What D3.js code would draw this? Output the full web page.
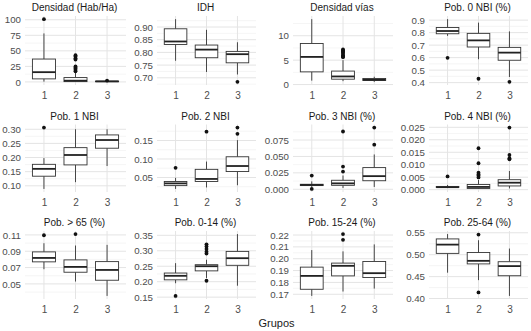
<!DOCTYPE html>
<html><head><meta charset="utf-8">
<script src="https://cdn.jsdelivr.net/npm/d3@7"></script>
<style>
body{margin:0;background:#fff}
svg{display:block;font-family:"Liberation Sans",Arial,sans-serif}
</style></head>
<body><svg id="c" width="531" height="331"></svg>
<script>
const groups = ["1","2","3"];
const titles = ["Densidad (Hab/Ha)","IDH","Densidad vías","Pob. 0 NBI (%)",
  "Pob. 1 NBI","Pob. 2 NBI","Pob. 3 NBI (%)","Pob. 4 NBI (%)",
  "Pob. > 65 (%)","Pob. 0-14 (%)","Pob. 15-24 (%)","Pob. 25-64 (%)"];
// stats per group: [low whisker, q1, median, q3, high whisker]
const densHabStats = [[0.5,4.9,15.7,36.8,78],[0.1,0.5,2,7,15],[0.2,0.6,0.9,1.2,1.8]];
const densHabOut = [[101],[43,41,38,36,25,23,21,19,17],[2.2]];
const idhStats = [[0.767,0.831,0.843,0.893,0.931],[0.723,0.779,0.811,0.829,0.889],[0.713,0.759,0.793,0.804,0.84]];
const idhOut = [[],[],[0.684]];
const densViasStats = [[0.8,2.6,5.66,8.4,13.4],[0.7,1.1,1.66,2.76,5.0],[0.55,0.83,0.97,1.24,1.6]];
const densViasOut = [[],[7.2,7.0,6.8,6.6,6.3,6.0,5.8,5.6],[]];
const nbi0Stats = [[0.774,0.791,0.813,0.841,0.908],[0.587,0.685,0.738,0.794,0.88],[0.445,0.579,0.64,0.682,0.81]];
const nbi0Out = [[0.598],[0.431],[0.406]];
const nbi1Stats = [[0.089,0.134,0.16,0.176,0.198],[0.113,0.174,0.209,0.235,0.30],[0.17,0.233,0.262,0.28,0.30]];
const nbi1Out = [[0.306],[],[]];
const nbi2Stats = [[0.019,0.028,0.034,0.039,0.049],[0.023,0.039,0.046,0.072,0.093],[0.029,0.066,0.081,0.106,0.151]];
const nbi2Out = [[0.076],[0.174],[0.185,0.168]];
const nbi3Stats = [[0.0035,0.0056,0.0066,0.0076,0.012],[0.002,0.006,0.009,0.0137,0.021],[0.0035,0.013,0.020,0.033,0.053]];
const nbi3Out = [[0.0208,0.0005],[0.088,0.0345,0.027],[0.094,0.068]];
const nbi4Stats = [[0.0007,0.0009,0.001,0.0013,0.0019],[0.0003,0.0005,0.0011,0.0021,0.0039],[0.0005,0.0015,0.0028,0.004,0.0075]];
const nbi4Out = [[0.0053],[0.0166,0.0106,0.0068,0.0061,0.0056,0.0049],[0.0249,0.0139,0.0126,0.0122]];
const p65Stats = [[0.068,0.077,0.0818,0.0892,0.0998],[0.0529,0.0643,0.0708,0.0794,0.097],[0.0353,0.0545,0.0671,0.0773,0.0978]];
const p65Out = [[0.1096],[0.111],[]];
const p014Stats = [[0.195,0.206,0.219,0.228,0.26],[0.212,0.235,0.25,0.255,0.271],[0.187,0.253,0.276,0.298,0.354]];
const p014Out = [[0.154],[0.321,0.314,0.306,0.297,0.291,0.203],[]];
const p1524Stats = [[0.1686,0.1742,0.1855,0.1929,0.2073],[0.1723,0.1855,0.194,0.1963,0.2062],[0.1748,0.1841,0.1878,0.1977,0.2121]];
const p1524Out = [[],[0.2208,0.216],[]];
const p2564Stats = [[0.459,0.503,0.523,0.536,0.547],[0.442,0.479,0.486,0.505,0.533],[0.406,0.452,0.474,0.484,0.514]];
const p2564Out = [[],[0.546,0.414],[]];
// tick labels per panel
const ticks1 = [0,25,50,75,100];
const ticks2 = [0.70,0.75,0.80,0.85,0.90];
const ticks3 = [0,5,10];
const ticks4 = [0.4,0.5,0.6,0.7,0.8,0.9];
const ticks5 = [0.10,0.15,0.20,0.25,0.30];
const ticks6 = [0.05,0.10,0.15];
const ticks7 = [0,0.025,0.05,0.075];
const ticks8 = [0,0.005,0.01,0.015,0.02,0.025];
const ticks9 = [0.05,0.07,0.09,0.11];
const ticks10 = [0.15,0.20,0.25,0.30,0.35];
const ticks11 = [0.17,0.18,0.19,0.20,0.21,0.22];
const ticks12 = [0.40,0.45,0.50,0.55];
const formats = ["d",".2f","d",".1f",".2f",".2f",".3f",".3f",".2f",".2f",".2f",".2f"];

const panels = [
  [densHabStats,densHabOut,ticks1],[idhStats,idhOut,ticks2],[densViasStats,densViasOut,ticks3],[nbi0Stats,nbi0Out,ticks4],
  [nbi1Stats,nbi1Out,ticks5],[nbi2Stats,nbi2Out,ticks6],[nbi3Stats,nbi3Out,ticks7],[nbi4Stats,nbi4Out,ticks8],
  [p65Stats,p65Out,ticks9],[p014Stats,p014Out,ticks10],[p1524Stats,p1524Out,ticks11],[p2564Stats,p2564Out,ticks12]
];

const cols = [[25,126],[157,256],[293,393],[429,528]];
const rows = [[16,85],[124.5,192],[231,299]];
const svg = d3.select("#c");

panels.forEach((p,i)=>{
  const [stats,outs,ticks] = p;
  const c = cols[i%4], r = rows[Math.floor(i/4)];
  const all = stats.flat().concat(outs.flat());
  const mn = d3.min(all), mx = d3.max(all), sp = mx-mn;
  const y = d3.scaleLinear().domain([mn-0.05*sp, mx+0.05*sp]).range([r[1],r[0]]);
  const x = d3.scalePoint().domain(groups).range(c).padding(0.6);
  const g = svg.append("g");
  // minor grid
  const step = ticks[1]-ticks[0];
  const minors = [];
  for(let v=ticks[0]-step/2; v<=y.domain()[1]; v+=step){ if(v>=y.domain()[0]) minors.push(v); }
  g.selectAll(".mn").data(minors).join("line")
    .attr("x1",c[0]).attr("x2",c[1]).attr("y1",d=>y(d)).attr("y2",d=>y(d))
    .attr("stroke","#efefef").attr("stroke-width",0.6);
  g.selectAll(".mj").data(ticks).join("line")
    .attr("x1",c[0]).attr("x2",c[1]).attr("y1",d=>y(d)).attr("y2",d=>y(d))
    .attr("stroke","#e4e4e4").attr("stroke-width",1);
  g.selectAll(".vg").data(groups).join("line")
    .attr("x1",d=>x(d)).attr("x2",d=>x(d)).attr("y1",r[0]).attr("y2",r[1])
    .attr("stroke","#e4e4e4").attr("stroke-width",1);
  // axes
  const ay = g.append("g").attr("transform",`translate(${c[0]},0)`)
    .call(d3.axisLeft(y).tickValues(ticks).tickFormat(d3.format(formats[i])).tickSize(0).tickPadding(4));
  ay.select(".domain").remove();
  ay.selectAll("text").attr("fill","#4d4d4d").style("font-size","9.7px");
  const ax = g.append("g").attr("transform",`translate(0,${r[1]})`)
    .call(d3.axisBottom(x).tickSize(0).tickPadding(7));
  ax.select(".domain").remove();
  ax.selectAll("text").attr("fill","#4d4d4d").style("font-size","10px");
  // title
  g.append("text").attr("x",(c[0]+c[1])/2 - 1).attr("y",r[0]-5).attr("text-anchor","middle")
    .style("font-size","10px").attr("fill","#1a1a1a").text(titles[i]);
  // boxes
  const bw = x.step()*0.73;
  const bx = g.selectAll(".bx").data(stats).join("g");
  bx.append("line").attr("x1",(d,j)=>x(groups[j])).attr("x2",(d,j)=>x(groups[j]))
    .attr("y1",d=>y(d[3])).attr("y2",d=>y(d[4])).attr("stroke","#333").attr("stroke-width",0.9);
  bx.append("line").attr("x1",(d,j)=>x(groups[j])).attr("x2",(d,j)=>x(groups[j]))
    .attr("y1",d=>y(d[1])).attr("y2",d=>y(d[0])).attr("stroke","#333").attr("stroke-width",0.9);
  bx.append("rect").attr("x",(d,j)=>x(groups[j])-bw/2).attr("width",bw)
    .attr("y",d=>y(d[3])).attr("height",d=>Math.max(0.5,y(d[1])-y(d[3])))
    .attr("fill","#fff").attr("stroke","#333").attr("stroke-width",0.9);
  bx.append("line").attr("x1",(d,j)=>x(groups[j])-bw/2).attr("x2",(d,j)=>x(groups[j])+bw/2)
    .attr("y1",d=>y(d[2])).attr("y2",d=>y(d[2])).attr("stroke","#222").attr("stroke-width",1.8);
  outs.forEach((o,j)=>{
    g.selectAll(".o"+j).data(o).join("circle").attr("cx",x(groups[j])).attr("cy",d=>y(d))
      .attr("r",1.9).attr("fill","#111");
  });
});
svg.append("text").attr("x",(cols[0][0]+cols[3][1])/2).attr("y",327).attr("text-anchor","middle")
  .style("font-size","11px").attr("fill","#1a1a1a").text("Grupos");
</script></body></html>
